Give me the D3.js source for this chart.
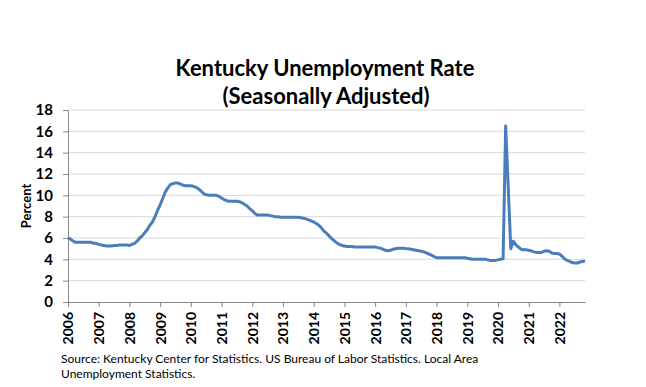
<!DOCTYPE html>
<html>
<head>
<meta charset="utf-8">
<script src="https://cdn.jsdelivr.net/npm/d3@7"></script>
<style>
  body { margin: 0; background: #fff; }
  text { font-family: Lato, "Open Sans", sans-serif; }
</style>
</head>
<body>
<script>
// Kentucky monthly unemployment rate, Jan 2006 .. Nov 2022
const years = ["2006","2007","2008","2009","2010","2011","2012","2013","2014","2015","2016","2017","2018","2019","2020","2021","2022"];
const yTicks = [0, 2, 4, 6, 8, 10, 12, 14, 16, 18];
const rate2006 = [6.0, 5.9, 5.7, 5.6, 5.6, 5.6, 5.6, 5.6, 5.6, 5.6, 5.5, 5.5];
const rate2007 = [5.4, 5.35, 5.3, 5.25, 5.25, 5.25, 5.3, 5.3, 5.35, 5.35, 5.35, 5.35];
const rate2008 = [5.3, 5.4, 5.5, 5.7, 6.0, 6.2, 6.5, 6.8, 7.2, 7.5, 8.0, 8.6];
const rate2009 = [9.1, 9.7, 10.3, 10.7, 11.0, 11.1, 11.15, 11.15, 11.05, 10.95, 10.9, 10.9];
const rate2010 = [10.9, 10.85, 10.75, 10.6, 10.4, 10.15, 10.05, 10.0, 10.0, 10.0, 10.0, 9.9];
const rate2011 = [9.75, 9.6, 9.5, 9.45, 9.45, 9.45, 9.45, 9.4, 9.3, 9.15, 9.0, 8.75];
const rate2012 = [8.55, 8.3, 8.15, 8.15, 8.15, 8.15, 8.15, 8.1, 8.05, 8.0, 8.0, 7.95];
const rate2013 = [7.95, 7.95, 7.95, 7.95, 7.95, 7.95, 7.95, 7.9, 7.85, 7.8, 7.7, 7.6];
const rate2014 = [7.5, 7.35, 7.2, 6.95, 6.65, 6.45, 6.2, 5.95, 5.75, 5.55, 5.4, 5.3];
const rate2015 = [5.25, 5.2, 5.2, 5.2, 5.15, 5.15, 5.15, 5.15, 5.15, 5.15, 5.15, 5.15];
const rate2016 = [5.15, 5.1, 5.05, 4.95, 4.85, 4.8, 4.85, 4.95, 5.0, 5.05, 5.05, 5.05];
const rate2017 = [5.0, 5.0, 4.95, 4.9, 4.85, 4.8, 4.75, 4.7, 4.6, 4.5, 4.4, 4.25];
const rate2018 = [4.15, 4.15, 4.15, 4.15, 4.15, 4.15, 4.15, 4.15, 4.15, 4.15, 4.15, 4.15];
const rate2019 = [4.1, 4.05, 4.0, 4.0, 4.0, 4.0, 4.0, 4.0, 3.95, 3.9, 3.9, 3.9];
const rate2020 = [3.95, 4.0, 4.05, 16.5, 10.8, 5.0, 5.7, 5.35, 5.15, 4.95, 4.9, 4.9];
const rate2021 = [4.85, 4.8, 4.7, 4.65, 4.65, 4.65, 4.75, 4.8, 4.75, 4.6, 4.55, 4.55];
const rate2022 = [4.5, 4.3, 4.05, 3.9, 3.8, 3.7, 3.65, 3.65, 3.75, 3.8, 3.85];

const rates = [].concat(rate2006, rate2007, rate2008, rate2009, rate2010, rate2011,
  rate2012, rate2013, rate2014, rate2015, rate2016, rate2017, rate2018, rate2019,
  rate2020, rate2021, rate2022);

const WIDTH = 646, HEIGHT = 387;
const plotLeft = 68, plotRight = 585, plotTop = 110, plotBottom = 302;

const svg = d3.select("body").append("svg")
  .attr("width", WIDTH).attr("height", HEIGHT);

const x = d3.scaleLinear().domain([0, rates.length - 1]).range([plotLeft, plotRight]);
const y = d3.scaleLinear().domain([0, 18]).range([plotBottom, plotTop]);

// gridlines
svg.append("g").selectAll("line")
  .data(yTicks.slice(1))
  .enter().append("line")
  .attr("x1", plotLeft).attr("x2", plotRight)
  .attr("y1", d => y(d)).attr("y2", d => y(d))
  .attr("stroke", "#d9d9d9").attr("stroke-width", 1);

// y axis
const yAxis = svg.append("g")
  .attr("transform", `translate(${plotLeft},0)`)
  .call(d3.axisLeft(y).tickValues(yTicks).tickSize(5).tickSizeOuter(0).tickPadding(10));
yAxis.select(".domain").attr("stroke", "#868686");
yAxis.selectAll(".tick line").attr("stroke", "#868686");
yAxis.selectAll("text")
  .attr("fill", "#000").style("font-size", "15px").style("font-weight", "bold")
  .style("font-family", "Lato, sans-serif");

// x axis, one tick per January
const xAxis = svg.append("g")
  .attr("transform", `translate(0,${plotBottom})`)
  .call(d3.axisBottom(x)
    .tickValues(years.map((d, i) => i * 12))
    .tickFormat((d, i) => years[i])
    .tickSize(5).tickSizeOuter(0));
xAxis.select(".domain").attr("stroke", "#868686");
xAxis.selectAll(".tick line").attr("stroke", "#868686");
xAxis.selectAll("text")
  .attr("fill", "#000")
  .attr("transform", "rotate(-90)")
  .attr("text-anchor", "end")
  .attr("x", -10).attr("y", 0).attr("dy", "0.35em")
  .style("font-size", "14px").style("font-weight", "bold")
  .style("font-family", "Lato, sans-serif");

// the line
const line = d3.line()
  .x((d, i) => x(i))
  .y(d => y(d));

svg.append("path")
  .datum(rates)
  .attr("d", line)
  .attr("fill", "none")
  .attr("stroke", "#4a7ebb")
  .attr("stroke-width", 3)
  .attr("stroke-linejoin", "round");

// titles
svg.append("text")
  .attr("x", 325).attr("y", 76)
  .attr("text-anchor", "middle")
  .style("font-size", "22px").style("font-weight", "bold")
  .text("Kentucky Unemployment Rate");
svg.append("text")
  .attr("x", 326).attr("y", 104)
  .attr("text-anchor", "middle")
  .style("font-size", "22px").style("font-weight", "bold")
  .text("(Seasonally Adjusted)");

svg.append("text")
  .attr("transform", `translate(31,${(plotTop + plotBottom) / 2}) rotate(-90)`)
  .attr("text-anchor", "middle")
  .style("font-size", "13px").style("font-weight", "bold")
  .text("Percent");

// source note
svg.append("text")
  .attr("x", 61).attr("y", 363)
  .style("font-size", "12px")
  .text("Source: Kentucky Center for Statistics. US Bureau of Labor Statistics. Local Area");
svg.append("text")
  .attr("x", 61).attr("y", 378)
  .style("font-size", "12px")
  .text("Unemployment Statistics.");
</script>
</body>
</html>
